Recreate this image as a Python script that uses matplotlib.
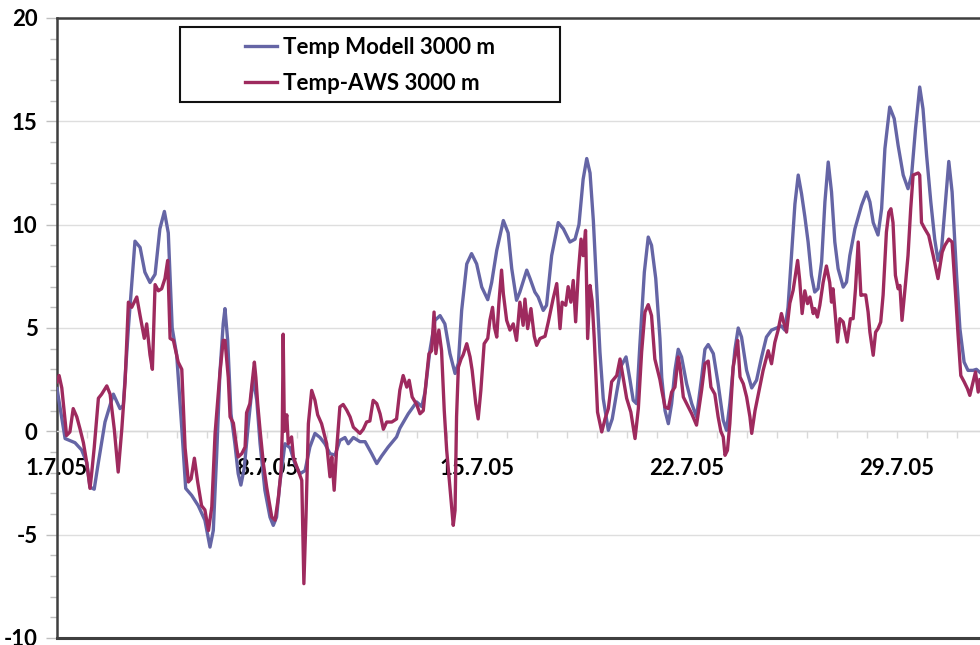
import matplotlib
matplotlib.use("Agg")
import matplotlib.pyplot as plt
from matplotlib.patches import Rectangle
from matplotlib.ticker import FixedLocator, MultipleLocator
import numpy as np

plt.rcParams['font.family'] = ['Lato', 'DejaVu Sans']
plt.rcParams['font.weight'] = 'bold'
plt.rcParams['axes.unicode_minus'] = False

# time in days since 1.7.05 00:00
t_modell = np.array([
    0.0, 0.27, 0.6, 0.82, 0.99, 1.1, 1.24, 1.38, 1.6, 1.88, 2.1, 2.21, 2.38, 2.6, 2.77,
    2.93, 3.1, 3.27, 3.43, 3.58, 3.71, 3.84, 3.99, 4.16, 4.29, 4.49, 4.71, 4.93, 5.1,
    5.21, 5.32, 5.43, 5.54, 5.6, 5.69, 5.8, 5.93, 6.04, 6.13, 6.24, 6.38, 6.54, 6.66,
    6.77, 6.93, 7.1, 7.21, 7.32, 7.43, 7.6, 7.77, 7.93, 8.1, 8.27, 8.43, 8.6, 8.77,
    8.93, 9.1, 9.27, 9.43, 9.6, 9.71, 9.88, 10.1, 10.27, 10.49, 10.66, 10.82, 11.04,
    11.32, 11.43, 11.71, 11.99, 12.16, 12.27, 12.43, 12.6, 12.77, 12.93, 13.1, 13.27,
    13.38, 13.49, 13.66, 13.82, 13.99, 14.16, 14.36, 14.49, 14.66, 14.88, 15.04, 15.16,
    15.32, 15.43, 15.66, 15.77, 15.93, 16.04, 16.21, 16.32, 16.49, 16.71, 16.88, 17.1,
    17.27, 17.4, 17.54, 17.66, 17.77, 17.88, 17.99, 18.1, 18.21, 18.38, 18.51, 18.66,
    18.82, 18.97, 19.1, 19.21, 19.32, 19.43, 19.58, 19.71, 19.82, 19.96, 20.1, 20.16,
    20.27, 20.38, 20.49, 20.6, 20.71, 20.82, 20.99, 21.16, 21.32, 21.49, 21.6, 21.71,
    21.88, 22.04, 22.21, 22.32, 22.43, 22.6, 22.71, 22.82, 22.99, 23.16, 23.32, 23.49,
    23.65, 23.82, 23.99, 24.15, 24.26, 24.37, 24.49, 24.6, 24.71, 24.82, 24.93, 25.04,
    25.15, 25.26, 25.37, 25.49, 25.6, 25.71, 25.82, 25.93, 26.04, 26.21, 26.32, 26.43,
    26.6, 26.82, 26.99, 27.1, 27.21, 27.37, 27.49, 27.6, 27.76, 27.91, 28.04, 28.21,
    28.37, 28.49, 28.62, 28.76, 28.87, 28.99, 29.13, 29.26, 29.37, 29.49, 29.6, 29.73,
    29.84, 29.99, 30.1, 30.24, 30.37, 30.54, 30.65, 30.77])
temp_modell = np.array([
    2.07, -0.35, -0.55, -0.9, -1.5, -2.7, -2.8, -1.5, 0.45, 1.8, 1.1, 1.26, 5.0, 9.2, 8.9,
    7.7, 7.2, 7.6, 9.8, 10.64, 9.6, 5.0, 3.7, 0.15, -2.76, -3.1, -3.6, -4.3, -5.6,
    -4.8, -1.24, 2.8, 5.2, 5.94, 4.4, 0.85, -0.6, -2.05, -2.6, -1.8, 0.37, 2.6, 1.5,
    -0.6, -2.85, -4.15, -4.55, -4.15, -2.5, -0.6, -0.8, -1.56, -2.05, -1.9, -0.76, -0.1, -0.3,
    -0.6, -1.08, -1.15, -0.44, -0.3, -0.6, -0.3, -0.5, -0.5, -1.08, -1.56, -1.2, -0.76,
    -0.27, 0.15, 0.85, 1.42, 1.2, 1.9, 3.9, 5.37, 5.6, 5.2, 3.76, 2.8,
    3.3, 5.85, 8.1, 8.6, 8.1, 6.98, 6.37, 7.2, 8.76, 10.2, 9.6, 7.87,
    6.34, 6.74, 7.8, 7.39, 6.74, 6.5, 5.85, 6.1, 8.5, 10.1, 9.8, 9.16,
    9.3, 10.0, 12.2, 13.2, 12.5, 10.2, 7.06, 3.84, 1.58, 0.05, 0.6, 1.9,
    3.2, 3.6, 2.5, 1.5, 1.34, 4.16, 7.7, 9.4, 9.0, 7.4, 4.5, 2.6,
    1.0, 0.37, 1.34, 2.95, 3.97, 3.6, 2.3, 1.34, 0.7, 2.6, 3.97, 4.2,
    3.76, 2.3, 0.53, 0.05, 1.34, 3.97, 5.0, 4.56, 2.95, 2.1, 2.47, 3.6,
    4.56, 4.9, 5.0, 5.1, 4.9, 6.0, 8.6, 11.0, 12.4, 11.5, 10.4, 9.16,
    7.55, 6.74, 6.9, 8.2, 11.1, 13.03, 11.58, 9.16, 7.87, 6.98, 7.22, 8.5,
    9.8, 10.93, 11.58, 11.1, 10.1, 9.5, 10.77, 13.68, 15.69, 15.13, 13.84, 12.4,
    11.74, 12.4, 14.64, 16.66, 15.6, 13.35, 11.1, 9.3, 8.27, 8.84, 10.77, 13.06,
    11.58, 7.55, 4.97, 3.35, 2.95, 2.95, 3.0, 2.85])

t_aws = np.array([
    0.0, 0.07, 0.16, 0.32, 0.43, 0.54, 0.66, 0.77, 0.88, 0.99, 1.1, 1.16, 1.24, 1.38,
    1.49, 1.66, 1.77, 1.91, 2.04, 2.16, 2.27, 2.38, 2.49, 2.66, 2.77, 2.91, 2.99, 3.1,
    3.18, 3.27, 3.38, 3.49, 3.6, 3.69, 3.77, 3.88, 4.04, 4.16, 4.27, 4.38, 4.47, 4.58,
    4.69, 4.82, 4.93, 5.05, 5.16, 5.27, 5.36, 5.43, 5.54, 5.6, 5.71, 5.77, 5.88, 5.99,
    6.04, 6.16, 6.27, 6.32, 6.43, 6.58, 6.63, 6.69, 6.77, 6.88, 6.99, 7.16, 7.27, 7.38,
    7.47, 7.51, 7.54, 7.58, 7.66, 7.71, 7.82, 7.88, 8.04, 8.16, 8.23, 8.3, 8.38, 8.49,
    8.6, 8.69, 8.82, 8.99, 9.1, 9.16, 9.24, 9.32, 9.43, 9.54, 9.66, 9.77, 9.88, 10.1,
    10.21, 10.32, 10.43, 10.54, 10.66, 10.77, 10.88, 10.99, 11.16, 11.32, 11.43, 11.54,
    11.66, 11.74, 11.84, 11.99, 12.1, 12.21, 12.32, 12.4, 12.49, 12.57, 12.63, 12.73,
    12.82, 12.91, 12.99, 13.1, 13.21, 13.27, 13.32, 13.38, 13.47, 13.54, 13.66, 13.77,
    13.84, 13.96, 14.04, 14.13, 14.24, 14.36, 14.43, 14.52, 14.58, 14.66, 14.73, 14.82,
    14.88, 14.99, 15.1, 15.21, 15.32, 15.43, 15.54, 15.6, 15.69, 15.8, 15.91, 15.99,
    16.1, 16.27, 16.38, 16.54, 16.66, 16.77, 16.84, 16.96, 17.04, 17.13, 17.21, 17.29,
    17.38, 17.47, 17.54, 17.62, 17.69, 17.77, 17.84, 17.91, 18.02, 18.16, 18.27, 18.38,
    18.49, 18.66, 18.77, 18.88, 18.99, 19.13, 19.27, 19.38, 19.49, 19.6, 19.71, 19.82,
    19.93, 20.1, 20.16, 20.27, 20.38, 20.49, 20.6, 20.71, 20.77, 20.88, 21.04, 21.16,
    21.32, 21.49, 21.6, 21.71, 21.8, 21.93, 22.04, 22.13, 22.21, 22.27, 22.35, 22.43,
    22.54, 22.62, 22.69, 22.77, 22.88, 22.99, 23.1, 23.16, 23.27, 23.43, 23.54, 23.71,
    23.82, 23.93, 24.04, 24.15, 24.24, 24.32, 24.43, 24.54, 24.69, 24.76, 24.84, 24.93,
    25.02, 25.1, 25.21, 25.26, 25.35, 25.43, 25.54, 25.65, 25.76, 25.82, 25.87, 25.93,
    26.02, 26.1, 26.21, 26.34, 26.45, 26.54, 26.62, 26.71, 26.8, 26.87, 26.96, 27.04,
    27.1, 27.21, 27.29, 27.37, 27.46, 27.54, 27.65, 27.73, 27.8, 27.87, 27.95, 28.04,
    28.1, 28.17, 28.29, 28.37, 28.46, 28.54, 28.71, 28.76, 28.82, 28.93, 29.06, 29.21,
    29.37, 29.51, 29.6, 29.73, 29.84, 29.95, 30.04, 30.13, 30.24, 30.35, 30.43, 30.54,
    30.62, 30.71, 30.77])
temp_aws = np.array([
    2.4, 2.7, 2.1, -0.2, -0.03, 1.1, 0.7, 0.1, -0.55, -1.5, -2.76, -1.97, -0.8, 1.6,
    1.8, 2.2, 1.8, 0.1, -1.97, 0.1, 2.4, 6.25, 6.0, 6.5, 5.6, 4.5, 5.2, 3.7,
    3.0, 7.1, 6.8, 6.9, 7.4, 8.27, 4.5, 4.4, 3.35, 3.0, -0.8, -2.45, -2.3, -1.3,
    -2.45, -3.6, -3.8, -4.8, -3.66, -0.1, 1.5, 2.8, 4.4, 4.4, 2.6, 0.7, 0.4, -0.8,
    -1.24, -1.08, -0.76, 0.9, 1.34, 3.35, 2.6, 1.34, 0.05, -1.56, -2.7, -4.15, -4.3, -3.2,
    -1.9, 0.0, 4.7, 0.0, 0.8, -0.6, -0.27, -1.24, -1.9, -2.37, -7.37, -4.15, 0.37, 1.98,
    1.5, 0.8, 0.37, -0.6, -2.2, -1.24, -2.85, -0.92, 1.18, 1.3, 1.02, 0.7, 0.2, -0.1,
    0.1, 0.45, 0.5, 1.5, 1.34, 0.85, 0.1, 0.45, 0.45, 0.6, 2.0, 2.7,
    2.14, 2.47, 1.66, 1.3, 0.85, 1.0, 2.63, 3.76, 3.9, 5.77, 3.76, 4.9,
    3.9, 1.0, -0.9, -2.7, -4.55, -3.82, 0.7, 3.1, 3.5, 3.7, 4.24, 3.6,
    2.95, 1.34, 0.6, 1.98, 4.24, 4.5, 5.37, 6.0, 5.05, 4.56, 6.18, 7.8,
    6.66, 5.37, 4.9, 5.2, 4.4, 6.25, 5.13, 6.4, 4.97, 5.94, 4.6, 4.16,
    4.49, 4.6, 5.3, 6.42, 7.15, 4.97, 6.25, 6.1, 7.0, 6.25, 7.3, 5.3,
    7.7, 9.3, 8.5, 9.72, 4.49, 7.06, 6.3, 4.5, 0.93, -0.03, 0.6, 1.1,
    2.4, 2.7, 3.5, 2.55, 1.6, 0.93, -0.35, 1.1, 3.84, 5.77, 6.13, 5.6,
    3.5, 2.5, 2.0, 1.18, 1.1, 1.9, 2.14, 3.6, 3.1, 1.66, 1.2, 0.85,
    0.3, 2.0, 3.27, 3.4, 2.14, 1.8, 0.7, 0.0, -0.27, -1.16, -0.92, 0.37,
    3.1, 3.76, 4.4, 2.63, 2.3, 1.66, 0.7, -0.1, 1.0, 2.14, 2.95, 3.9,
    3.27, 4.3, 4.9, 5.7, 5.2, 4.8, 6.2, 6.82, 8.27, 7.3, 5.7, 6.8,
    6.18, 6.5, 5.7, 5.94, 5.53, 6.1, 7.2, 8.0, 7.2, 6.25, 6.9, 5.9,
    4.32, 5.45, 5.29, 4.32, 5.45, 5.45, 6.9, 9.16, 6.58, 6.6, 6.6, 5.77,
    4.8, 3.68, 4.8, 4.97, 5.29, 6.6, 9.64, 10.6, 10.77, 10.1, 7.55, 6.9,
    7.06, 5.37, 7.2, 8.5, 10.77, 12.4, 12.5, 12.4, 10.1, 9.8, 9.48, 8.5,
    7.39, 8.67, 9.0, 9.3, 9.16, 6.74, 4.64, 2.7, 2.4, 2.07, 1.74, 2.39,
    2.87, 1.9, 2.5])

tick_days = [0, 7, 14, 21, 28]
tick_labels = ['1.7.05', '8.7.05', '15.7.05', '22.7.05', '29.7.05']

W, H = 980, 645
fig = plt.figure(figsize=(W / 100, H / 100), dpi=100)
ax = fig.add_axes([57 / W, 1 - 638 / H, 1 - 57 / W, (638 - 18) / H])

ax.plot(t_modell, temp_modell, color='#6565a5', lw=2.4, label='Temp Modell 3000 m',
        solid_joinstyle='round', zorder=3)
ax.plot(t_aws, temp_aws, color='#9e2a5e', lw=2.4, label='Temp-AWS 3000 m',
        solid_joinstyle='round', zorder=4)

ax.set_xlim(0, 30.77)
ax.set_ylim(-10, 20)

# y axis: major every 5, minor every 1
ax.yaxis.set_major_locator(MultipleLocator(5))
ax.yaxis.set_minor_locator(MultipleLocator(1))
ax.tick_params(axis='y', which='major', length=8, width=1, color='#bfbfbf',
               labelsize=16, pad=6)
ax.tick_params(axis='y', which='minor', length=5, width=1, color='#bfbfbf')
ax.grid(axis='y', which='major', color='#dedede', lw=1, zorder=0)

# x axis sits on the zero line, ticks every day
ax.spines['bottom'].set_position(('data', 0))
ax.spines['bottom'].set_color('#d9d9d9')
ax.spines['bottom'].set_linewidth(1)
ax.xaxis.set_major_locator(FixedLocator(tick_days))
ax.xaxis.set_minor_locator(MultipleLocator(1))
ax.set_xticklabels(tick_labels)
ax.tick_params(axis='x', which='both', direction='out', length=5, width=1,
               color='#d9d9d9')
ax.tick_params(axis='x', which='major', labelsize=16, pad=14)

for side in ['left', 'top']:
    ax.spines[side].set_color('#3f3f3f')
    ax.spines[side].set_linewidth(1.8)
ax.spines['right'].set_visible(False)
ax.axhline(-10, color='#3f3f3f', lw=2.2, clip_on=False, zorder=5)

leg = ax.legend(loc='upper left', bbox_to_anchor=(245 / W, 1 - 37 / H),
                bbox_transform=fig.transFigure, frameon=False, fontsize=16,
                handlelength=1.45, handletextpad=0.28, labelspacing=0.68,
                borderpad=0, borderaxespad=0)
fig.patches.append(Rectangle((180 / W, 1 - 102 / H), 380 / W, 75 / H,
                             transform=fig.transFigure, fill=False,
                             edgecolor='#111111', lw=1.5, zorder=10))

fig.savefig('out.png', dpi=100)
